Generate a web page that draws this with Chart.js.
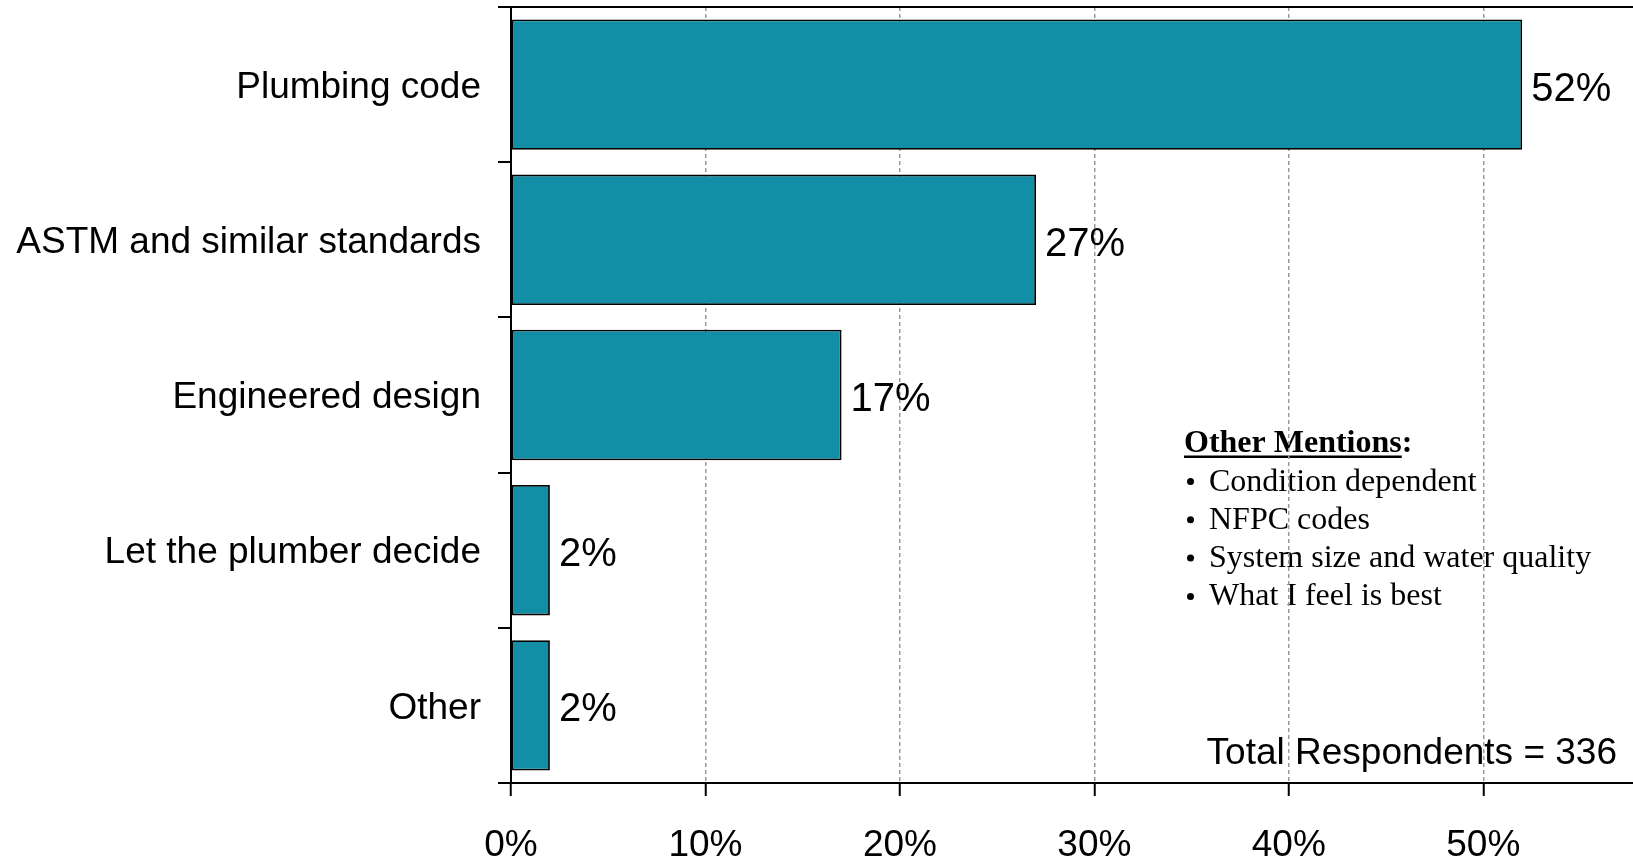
<!DOCTYPE html>
<html>
<head>
<meta charset="utf-8">
<script src="https://cdn.jsdelivr.net/npm/chart.js@4.4.0/dist/chart.umd.min.js"></script>
<style>
  html, body { margin: 0; padding: 0; background: #fff; }
  #wrap { width: 1633px; height: 860px; position: relative; }
</style>
</head>
<body>
<div id="wrap"><canvas id="chart_sources"></canvas></div>
<script>
const categories = ['Plumbing code', 'ASTM and similar standards', 'Engineered design', 'Let the plumber decide', 'Other'];
const shares = [52, 27, 17, 2, 2];
const xTicks = [0, 10, 20, 30, 40, 50];
const otherMentions = ['Condition dependent', 'NFPC codes', 'System size and water quality', 'What I feel is best'];
const totalRespondents = 336;

const barColor = '#128fa6';
const sans = "'Liberation Sans', Arial, sans-serif";
const serif = "'Liberation Serif', 'Times New Roman', serif";

// percentage at the end of each bar
const valueLabels = {
    id: 'valueLabels',
    afterDatasetsDraw(chart) {
        const { ctx } = chart;
        const meta = chart.getDatasetMeta(0);
        ctx.save();
        ctx.font = `40px ${sans}`;
        ctx.fillStyle = '#000';
        ctx.textBaseline = 'middle';
        meta.data.forEach((bar, i) => {
            ctx.fillText(`${shares[i]}%`, bar.x + 9, bar.y + 5);
        });
        ctx.restore();
    }
}

// text boxes, drawn before the grid so the dashed lines run over them
const notes = {
    id: 'notes',
    beforeDraw(chart) {
        const { ctx } = chart;
        ctx.save();
        ctx.fillStyle = '#000';
        ctx.textBaseline = 'alphabetic';
        ctx.font = `bold 32px ${serif}`;
        const head = 'Other Mentions';
        const w = ctx.measureText(head).width;
        ctx.fillText(head, 1184, 452);
        ctx.fillText(':', 1184 + w, 452);
        ctx.fillRect(1184, 455.5, w, 2.5);

        ctx.font = `32px ${serif}`;
        otherMentions.forEach((t, i) => {
            const y = 490.5 + i * 38.3;
            ctx.beginPath();
            ctx.arc(1190.5, y - 9, 3.5, 0, Math.PI * 2);
            ctx.fill();
            ctx.fillText(t, 1209, y);
        });

        ctx.font = `37px ${sans}`;
        ctx.textAlign = 'right';
        ctx.fillText(`Total Respondents = ${totalRespondents}`, 1617, 764);
        ctx.restore();
    }
}

const renderChart = () => {
    const data = {
        labels: categories,
        datasets: [{
            data: shares,
            backgroundColor: barColor,
            borderColor: '#000',
            borderWidth: 1.8,
            borderSkipped: false,
            barPercentage: 0.84,
            categoryPercentage: 1
        }]
    }

    const options = {
        indexAxis: 'y',
        responsive: true,
        maintainAspectRatio: false,
        animation: false,
        layout: { padding: { left: 0, top: 7, right: 0, bottom: 0 } },
        scales: {
            x: {
                min: 0,
                max: 57.7,
                afterBuildTicks: scale => { scale.ticks = xTicks.map(v => ({ value: v })) },
                afterFit: scale => { scale.height = 77 },
                grid: {
                    color: '#9a9a9a',
                    lineWidth: 1.5,
                    tickColor: '#000',
                    tickWidth: 2,
                    tickLength: 13
                },
                border: { color: '#000', width: 2, dash: [4, 3] },
                ticks: {
                    color: '#000',
                    font: { family: sans, size: 37 },
                    padding: 28,
                    maxRotation: 0,
                    callback: v => `${v}%`
                }
            },
            y: {
                afterFit: scale => {
                    scale.width = 511;
                    scale.paddingTop = 0;
                    scale.paddingBottom = 0;
                },
                grid: {
                    offset: true,
                    color: ctx => ctx.index === 0 ? '#000' : 'transparent',
                    lineWidth: 2,
                    tickColor: '#000',
                    tickWidth: 2,
                    tickLength: 13
                },
                border: { color: '#000', width: 2 },
                ticks: {
                    color: '#000',
                    font: { family: sans, size: 37 },
                    padding: 17,
                    labelOffset: 3
                }
            }
        },
        plugins: {
            legend: { display: false },
            tooltip: { enabled: false }
        }
    }

    new Chart('chart_sources', { type: 'bar', data, options, plugins: [notes, valueLabels] })
}
renderChart();
</script>
</body>
</html>
